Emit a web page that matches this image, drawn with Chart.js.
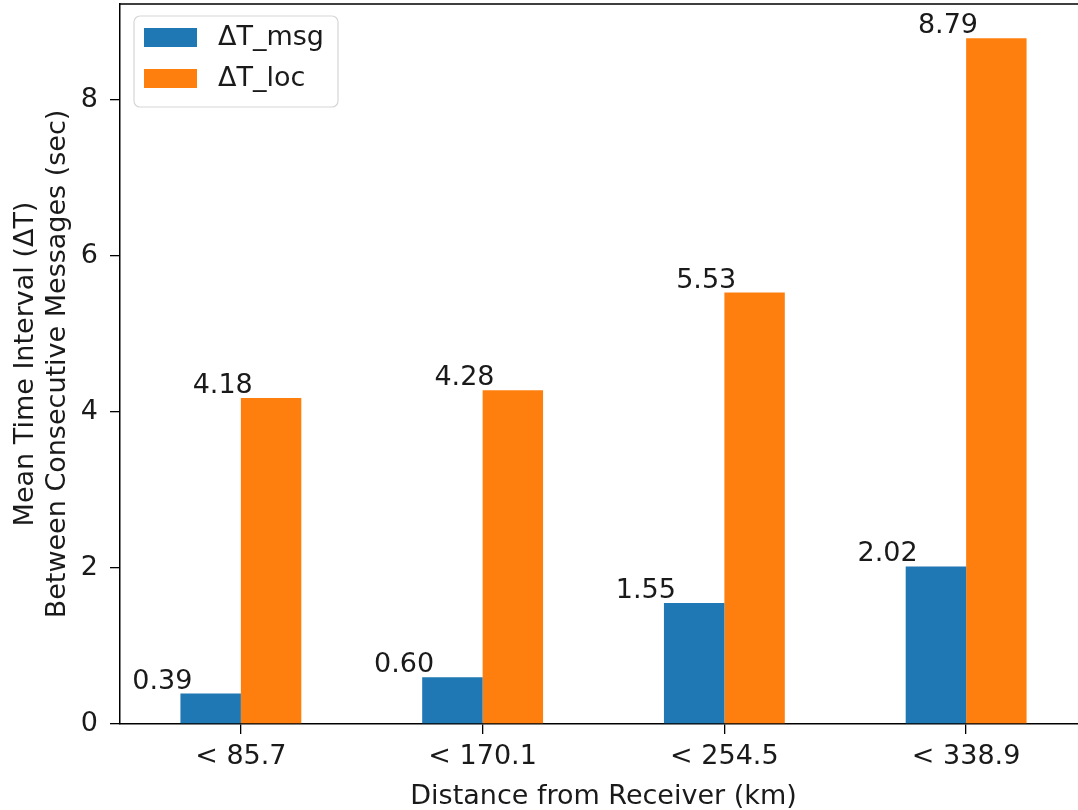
<!DOCTYPE html>
<html>
<head>
<meta charset="utf-8">
<script src="https://cdn.jsdelivr.net/npm/chart.js@4/dist/chart.umd.min.js"></script>
<style>
  html, body { margin: 0; padding: 0; background: #fff; }
  #wrap { width: 1078px; height: 810px; overflow: hidden; position: relative; }
  canvas { display: block; }
</style>
</head>
<body>
<div id="wrap"><canvas id="chart" width="1100" height="810"></canvas></div>
<script>
const categories = ["< 85.7", "< 170.1", "< 254.5", "< 338.9"];
const msgValues = [0.39, 0.60, 1.55, 2.02];
const locValues = [4.18, 4.28, 5.53, 8.79];
const yTicks = [0, 2, 4, 6, 8];
const seriesNames = ["\u0394T_msg", "\u0394T_loc"];
const seriesColors = ["#1f77b4", "#ff7f0e"];

const FONT = "'DejaVu Sans', sans-serif";
const FS = 27;

// frame (top/right spines) + value labels + legend box
const extras = {
  id: "extras",
  afterDatasetsDraw(chart) {
    const ctx = chart.ctx;
    const area = chart.chartArea;
    const x = chart.scales.x;
    const unit = x.getPixelForValue(1) - x.getPixelForValue(0);

    ctx.save();
    ctx.strokeStyle = "#000";
    ctx.lineWidth = 1.5;
    ctx.beginPath();
    ctx.moveTo(area.left, area.top);
    ctx.lineTo(area.right, area.top);
    ctx.lineTo(area.right, area.bottom);
    ctx.stroke();

    // labels above bars, shifted left like the original
    ctx.fillStyle = "#1a1a1a";
    ctx.font = FS + "px " + FONT;
    ctx.textAlign = "center";
    ctx.textBaseline = "alphabetic";
    chart.data.datasets.forEach((ds, i) => {
      chart.getDatasetMeta(i).data.forEach((bar, j) => {
        ctx.fillText(ds.data[j].toFixed(2), bar.x - 0.2 * unit, bar.y - 5);
      });
    });

    // legend
    const lx = area.left + 14, ly = area.top + 12, lw = 204, lh = 91;
    ctx.beginPath();
    ctx.roundRect(lx, ly, lw, lh, 6);
    ctx.fillStyle = "rgba(255,255,255,0.8)";
    ctx.fill();
    ctx.strokeStyle = "#d6d6d6";
    ctx.lineWidth = 1.2;
    ctx.stroke();
    ctx.textAlign = "left";
    ctx.textBaseline = "middle";
    chart.data.datasets.forEach((ds, i) => {
      const sy = ly + 12 + i * 41;
      ctx.fillStyle = ds.backgroundColor;
      ctx.fillRect(lx + 10, sy, 53, 19);
      ctx.fillStyle = "#1a1a1a";
      ctx.fillText(ds.label, lx + 84, sy + 10);
    });
    ctx.restore();
  }
};

new Chart(document.getElementById("chart"), {
  type: "bar",
  data: {
    labels: categories,
    datasets: [
      { label: seriesNames[0], data: msgValues, backgroundColor: seriesColors[0] },
      { label: seriesNames[1], data: locValues, backgroundColor: seriesColors[1] }
    ]
  },
  options: {
    responsive: false,
    animation: false,
    devicePixelRatio: 1,
    layout: { padding: { top: 4, right: 13, left: 0, bottom: 0 } },
    datasets: { bar: { categoryPercentage: 0.5, barPercentage: 1.0 } },
    plugins: { legend: { display: false }, tooltip: { enabled: false } },
    scales: {
      x: {
        offset: true,
        afterFit(scale) { scale.height = 86; scale.paddingLeft = 0; scale.paddingRight = 0; },
        grid: { offset: false, drawOnChartArea: false, drawTicks: true, tickLength: 10, color: "#000", lineWidth: 1.3 },
        border: { display: true, color: "#000", width: 1.5 },
        ticks: { color: "#1a1a1a", font: { family: FONT, size: FS }, padding: 7, maxRotation: 0 },
        title: {
          display: true, text: "Distance from Receiver (km)", color: "#1a1a1a",
          font: { family: FONT, size: FS }, padding: { top: 4, bottom: -3 }
        }
      },
      y: {
        min: 0,
        max: 9.23,
        afterFit(scale) { scale.width = 120; scale.paddingTop = 0; scale.paddingBottom = 0; },
        afterBuildTicks(scale) { scale.ticks = yTicks.map(v => ({ value: v })); },
        grid: { drawOnChartArea: false, drawTicks: true, tickLength: 10, color: "#000", lineWidth: 1.3 },
        border: { display: true, color: "#000", width: 1.5 },
        ticks: { color: "#1a1a1a", font: { family: FONT, size: FS }, padding: 12, callback: v => String(v) },
        title: {
          display: true,
          text: ["Mean Time Interval (\u0394T)", "Between Consecutive Messages (sec)"],
          color: "#1a1a1a", font: { family: FONT, size: FS, lineHeight: 1.18 }, padding: { top: 10, bottom: 0 }
        }
      }
    }
  },
  plugins: [extras]
});
</script>
</body>
</html>
